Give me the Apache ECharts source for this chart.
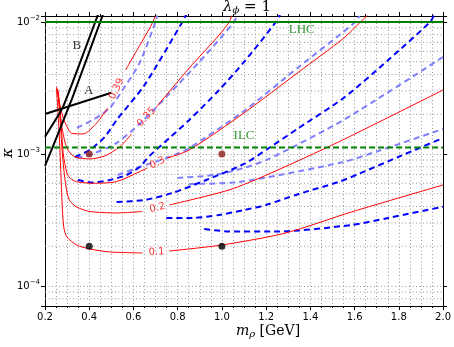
<!DOCTYPE html>
<html>
<head>
<meta charset="utf-8">
<script src="https://cdn.jsdelivr.net/npm/echarts@6/dist/echarts.min.js"></script>
<style>
  html, body { margin: 0; padding: 0; background: #fff; }
  #main { width: 454px; height: 347px; }
</style>
</head>
<body>
<div id="main"></div>
<script>
// axis ranges
var xMin = 0.2, xMax = 2.0;
var yMin = 7.05e-5, yMax = 1.11e-2;

// horizontal bounds
var lhcLevel = 1e-2;
var ilcLevel = 1.12e-3;

// black constraint lines
var lineA = [[0.2, 2.01e-3], [0.5, 2.91e-3]];
var lineB1 = [[0.2, 1.352e-3], [0.282, 2.282e-3], [0.425, 9.78e-3], [0.449, 1.25e-2]];
var lineB2 = [[0.2, 8.11e-4], [0.32, 2.565e-3], [0.4475, 9.78e-3], [0.471, 1.25e-2]];

// red contours (null = gap for the inline label)
var contour039 = [[0.2518, 3.218e-3], [0.2675, 2.351e-3], [0.2824, 1.874e-3], [0.2977, 1.630e-3], [0.3202, 1.435e-3],
  [0.3724, 1.418e-3], [0.4327, 1.708e-3], [0.4835, 2.231e-3], null,
  [0.5645, 4.329e-3], [0.6424, 7.305e-3], [0.6874, 9.948e-3], [0.704, 1.19e-2]];
var contour035 = [[0.2563, 3.108e-3], [0.2675, 2.154e-3], [0.2765, 1.601e-3], [0.29, 1.233e-3], [0.3035, 1.072e-3],
  [0.335, 0.949e-3], [0.4025, 0.917e-3], [0.47, 0.966e-3], [0.5375, 1.130e-3], [0.5915, 1.418e-3], null,
  [0.704, 2.270e-3], [0.8525, 4.482e-3], [0.9875, 7.97e-3], [1.0325, 9.95e-3], [1.046, 1.13e-2]];
var contour030 = [[0.2608, 2.949e-3], [0.2743, 1.520e-3], [0.2833, 0.983e-3], [0.2977, 0.7305e-3], [0.3125, 0.658e-3],
  [0.3427, 0.6167e-3], [0.4174, 0.600e-3], [0.5227, 0.6167e-3], [0.6275, 0.734e-3], [0.6635, 0.783e-3], null,
  [0.7535, 0.933e-3], [0.8525, 1.072e-3], [1.1, 2.045e-3], [1.3475, 4.18e-3], [1.55, 7.524e-3], [1.6252, 9.95e-3], [1.67, 1.17e-2]];
var contour020 = [[0.2585, 3.054e-3], [0.2698, 1.658e-3], [0.2788, 0.983e-3], [0.2878, 0.693e-3], [0.299, 0.5155e-3],
  [0.3125, 0.4406e-3], [0.3427, 0.3967e-3], [0.4025, 0.3668e-3], [0.5227, 0.3573e-3], [0.641, 0.3668e-3], null,
  [0.7625, 0.4108e-3], [1.0325, 0.5336e-3], [1.2125, 0.7054e-3], [1.5275, 1.233e-3], [2.0, 3.054e-3]];
var contour010 = [[0.2518, 3.162e-3], [0.2608, 1.810e-3], [0.2675, 1.072e-3], [0.272, 0.693e-3], [0.2788, 0.3765e-3],
  [0.2855, 0.275e-3], [0.299, 0.235e-3], [0.3427, 0.2044e-3], [0.4025, 0.1907e-3], [0.4925, 0.181e-3], [0.641, 0.1778e-3], null,
  [0.7625, 0.1841e-3], [1.001, 0.2044e-3], [1.289, 0.2521e-3], [1.586, 0.3636e-3], [2.0, 0.5823e-3]];
var contourLabels = [[0.524, 3.108e-3, '0.39'], [0.659, 1.907e-3, '0.35'], [0.7085, 0.855e-3, '0.3'],
  [0.7085, 0.390e-3, '0.2'], [0.704, 0.181e-3, '0.1']];

// blue dashed curves
var blueDash1 = [[0.335, 0.949e-3], [0.4025, 1.072e-3], [0.47, 1.345e-3], [0.524, 1.81e-3], [0.65, 3.33e-3], [0.821, 1e-2], [0.84, 1.15e-2]];
var blueDash2 = [[0.3485, 0.6353e-3], [0.416, 0.6083e-3], [0.4925, 0.6353e-3], [0.569, 0.693e-3], [0.6275, 0.797e-3], [0.6725, 0.966e-3],
  [0.7625, 1.322e-3], [0.8525, 1.81e-3], [0.9875, 3.054e-3], [1.1, 4.977e-3], [1.244, 1e-2], [1.265, 1.16e-2]];
var blueDash3 = [[0.524, 0.4329e-3], [0.65, 0.4482e-3], [0.776, 0.5064e-3], [0.929, 0.6353e-3], [1.1, 0.8398e-3], [1.2125, 1.11e-3],
  [1.3475, 1.574e-3], [1.55, 2.656e-3], [1.7525, 5.154e-3], [1.9415, 1e-2], [1.96, 1.13e-2]];
var blueDash4 = [[0.749, 0.3275e-3], [0.866, 0.3275e-3], [0.9875, 0.345e-3], [1.1, 0.3765e-3], [1.199, 0.4108e-3], [1.3475, 0.4977e-3],
  [1.5275, 0.6136e-3], [1.6175, 0.7054e-3], [1.7975, 0.949e-3], [2.0, 1.322e-3]];
var blueDash5 = [[0.92, 0.2702e-3], [1.0325, 0.2587e-3], [1.2575, 0.2587e-3], [1.586, 0.2898e-3], [1.7525, 0.3275e-3], [2.0, 0.3988e-3]];

// light blue dashed curves
var lightDash1 = [[0.344, 1.574e-3], [0.416, 1.81e-3], [0.4925, 2.231e-3], [0.551, 3.054e-3], [0.6275, 4.89e-3], [0.6995, 1e-2], [0.708, 1.12e-2]];
var lightDash2 = [[0.344, 0.933e-3], [0.425, 1.018e-3], [0.524, 1.212e-3], [0.6275, 1.688e-3], [0.7175, 2.392e-3], [0.8975, 4.977e-3], [1.055, 1e-2], [1.0685, 1.13e-2]];
var lightDash3 = [[0.5285, 0.693e-3], [0.6275, 0.797e-3], [0.7625, 0.949e-3], [0.8525, 1.11e-3], [1.1, 2.117e-3], [1.3475, 4.561e-3], [1.604, 1e-2], [1.622, 1.11e-2]];
var lightDash4 = [[0.7985, 0.658e-3], [0.965, 0.693e-3], [1.1, 0.783e-3], [1.2125, 0.917e-3], [1.55, 1.81e-3], [2.0, 5.43e-3]];
var lightDash5 = [[0.8525, 0.5925e-3], [1.0775, 0.6136e-3], [1.55, 0.87e-3], [1.7075, 1.054e-3], [2.0, 1.547e-3]];

// benchmark points
var blackDots = [[0.4, 2e-4], [1.0, 2e-4]];
var redDots = [[0.4, 1e-3], [1.0, 1e-3]];

// text annotations
var textLabels = [[1.361, 8.7e-3, 'LHC', '#008000'], [1.1, 1.369e-3, 'ILC', '#008000'],
  [0.398, 3.0e-3, 'A', '#000'], [0.344, 6.58e-3, 'B', '#000']];

var chart = echarts.init(document.getElementById('main'), null, { renderer: 'canvas' });

var gridColor = '#999';
var gridDash = [1, 2.5];
var minorY = [];
[-5, -4, -3].forEach(function (e) {
  for (var k = 2; k <= 9; k++) {
    var v = k * Math.pow(10, e);
    if (v > yMin && v < yMax) minorY.push(v);
  }
});

// split a curve on its null entries
function segments(arr) {
  var out = [], cur = [];
  arr.forEach(function (p) {
    if (p === null) { if (cur.length) out.push(cur); cur = []; }
    else cur.push(p);
  });
  if (cur.length) out.push(cur);
  return out;
}

function lineSeries(data, color, width, dash, z) {
  return {
    type: 'line', data: data, showSymbol: false, symbol: 'none', smooth: 0.25,
    lineStyle: { color: color, width: width, type: dash || 'solid' },
    clip: true, silent: true, z: z || 2
  };
}

var series = [];

// minor horizontal grid (log decades 2..9)
minorY.forEach(function (v) {
  var s = lineSeries([[xMin, v], [xMax, v]], gridColor, 1, gridDash, 1);
  s.smooth = false;
  series.push(s);
});

[lightDash1, lightDash2, lightDash3, lightDash4, lightDash5].forEach(function (d) {
  series.push(lineSeries(d, '#8080ff', 2, [6, 4], 3));
});
[blueDash1, blueDash2, blueDash3, blueDash4, blueDash5].forEach(function (d) {
  series.push(lineSeries(d, '#0000ff', 2, [6, 4], 4));
});
[contour039, contour035, contour030, contour020, contour010].forEach(function (c) {
  segments(c).forEach(function (s) { series.push(lineSeries(s, '#ff0000', 1, 'solid', 5)); });
});
[lineA, lineB1, lineB2].forEach(function (d) {
  var s = lineSeries(d, '#000', 2, 'solid', 6); s.smooth = 0.15; series.push(s);
});

series.push(lineSeries([[xMin, lhcLevel], [xMax, lhcLevel]], '#008000', 2, 'solid', 6));
series.push(lineSeries([[xMin, ilcLevel], [xMax, ilcLevel]], '#008000', 2, [6, 3], 6));

// inline contour labels
var labelRot = { '0.39': 64, '0.35': 47, '0.3': 27, '0.2': 13, '0.1': 3 };
series.push({
  type: 'scatter', symbolSize: 0, silent: true, z: 7,
  data: contourLabels.map(function (l) {
    return {
      value: [l[0], l[1]],
      label: {
        show: true, position: 'inside', formatter: l[2], rotate: labelRot[l[2]],
        color: '#ff0000', fontSize: 10, fontFamily: 'DejaVu Sans'
      }
    };
  })
});

// text labels
series.push({
  type: 'scatter', symbolSize: 0, silent: true, z: 7,
  data: textLabels.map(function (l) {
    return {
      value: [l[0], l[1]],
      label: { show: true, position: 'inside', formatter: l[2], color: l[3], fontSize: 13, fontFamily: 'Liberation Serif' }
    };
  })
});

series.push({
  type: 'scatter', data: blackDots, symbolSize: 7, itemStyle: { color: '#000' }, z: 8, silent: true
});
series.push({
  type: 'scatter', data: redDots, symbolSize: 7, itemStyle: { color: '#8b1a1a' }, z: 8, silent: true
});

function logLabel(v) {
  var e = Math.log10(v);
  if (Math.abs(e - Math.round(e)) > 1e-6) return '';
  return '{b|10}{s|\u2212' + Math.abs(Math.round(e)) + '}';
}

var tickFont = { fontSize: 10, fontFamily: 'DejaVu Sans', color: '#000' };

chart.setOption({
  animation: false,
  grid: { left: 45, right: 8, top: 16, bottom: 41 },
  xAxis: [{
    type: 'value', min: xMin, max: xMax, interval: 0.2, position: 'bottom',
    axisLine: { show: true, onZero: false, lineStyle: { color: '#000', width: 1 } },
    axisTick: { show: true, inside: false, length: 4, lineStyle: { color: '#000' } },
    minorTick: { show: true, splitNumber: 4, length: 2, lineStyle: { color: '#000' } },
    axisLabel: Object.assign({ margin: 6, formatter: function (v) { return v.toFixed(1); } }, tickFont),
    splitLine: { show: true, lineStyle: { type: gridDash, color: gridColor } },
    minorSplitLine: { show: true, lineStyle: { type: gridDash, color: gridColor } }
  }, {
    type: 'value', min: xMin, max: xMax, interval: 0.2, position: 'top',
    axisLine: { show: true, onZero: false, lineStyle: { color: '#000', width: 1 } },
    axisTick: { show: true, inside: false, length: 4, lineStyle: { color: '#000' } },
    minorTick: { show: true, splitNumber: 4, length: 2, lineStyle: { color: '#000' } },
    axisLabel: { show: false }, splitLine: { show: false }
  }],
  yAxis: [{
    type: 'log', logBase: 10, min: yMin, max: yMax, position: 'left',
    axisLine: { show: true, onZero: false, lineStyle: { color: '#000', width: 1 } },
    axisTick: { show: true, inside: false, length: 4, lineStyle: { color: '#000' } },
    axisLabel: {
      formatter: logLabel, margin: 5, showMinLabel: true, showMaxLabel: true,
      rich: {
        b: { fontSize: 10, fontFamily: 'DejaVu Sans', color: '#000' },
        s: { fontSize: 7, fontFamily: 'DejaVu Sans', color: '#000', padding: [0, 0, 7, 0] }
      }
    },
    splitLine: { show: true, lineStyle: { type: gridDash, color: gridColor } }
  }, {
    type: 'log', logBase: 10, min: yMin, max: yMax, position: 'right',
    axisLine: { show: true, onZero: false, lineStyle: { color: '#000', width: 1 } },
    axisTick: { show: true, inside: false, length: 4, lineStyle: { color: '#000' } },
    axisLabel: { show: false }, splitLine: { show: false }
  }],
  graphic: [{
    type: 'text', left: 223, top: 0, silent: true,
    style: {
      text: '{l|\u03bb}{p|\u03d5}{n| = 1}',
      rich: {
        l: { fontSize: 15, fontFamily: 'DejaVu Serif', fontStyle: 'italic', fill: '#000' },
        p: { fontSize: 10, fontFamily: 'DejaVu Serif', fontStyle: 'italic', fill: '#000', padding: [6, 0, 0, 0] },
        n: { fontSize: 15, fontFamily: 'DejaVu Serif', fill: '#000' }
      }
    }
  }, {
    type: 'text', left: 236, top: 324, silent: true,
    style: {
      text: '{m|m}{p|\u03c1}{n| [GeV]}',
      rich: {
        m: { fontSize: 14, fontFamily: 'DejaVu Serif', fontStyle: 'italic', fill: '#000' },
        p: { fontSize: 10, fontFamily: 'DejaVu Serif', fontStyle: 'italic', fill: '#000', padding: [6, 0, 0, 0] },
        n: { fontSize: 14, fontFamily: 'DejaVu Serif', fill: '#000' }
      }
    }
  }, {
    type: 'text', left: 1, top: 148, rotation: Math.PI / 2, silent: true,
    style: { text: '\u03ba', fontSize: 15, fontFamily: 'DejaVu Serif', fontStyle: 'italic', fill: '#000' }
  }],
  series: series
});
</script>
</body>
</html>
